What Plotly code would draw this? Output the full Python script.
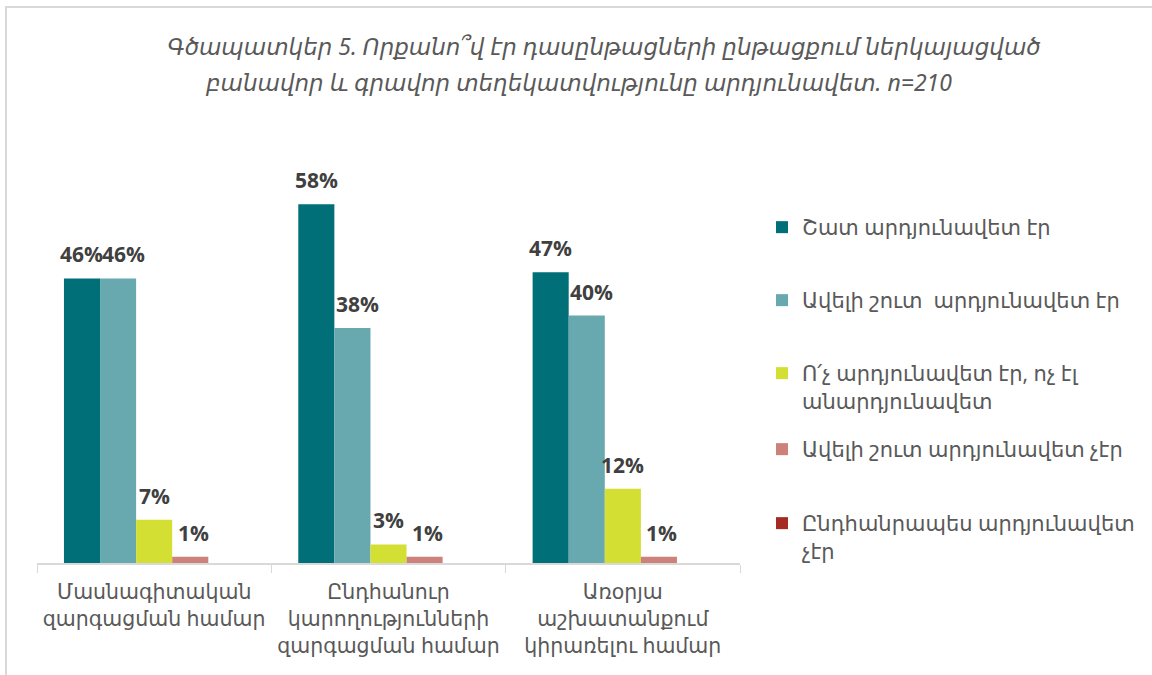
import plotly.graph_objects as go

categories = ["Մասնագիտական<br>զարգացման համար",
              "Ընդհանուր<br>կարողությունների<br>զարգացման համար",
              "Առօրյա<br>աշխատանքում<br>կիրառելու համար"]
series_names = ["Շատ արդյունավետ էր",
                "Ավելի շուտ  արդյունավետ էր",
                "Ո՛չ արդյունավետ էր, ոչ էլ<br>անարդյունավետ",
                "Ավելի շուտ արդյունավետ չէր",
                "Ընդհանրապես արդյունավետ<br>չէր"]
values = [
    [46, 58, 47],
    [46, 38, 40],
    [7, 3, 12],
    [1, 1, 1],
    [0, 0, 0],
]
colors = ["#006F77", "#67A9AF", "#D4DF33", "#CC817B", "#A52A22"]
title_line1 = "Գծապատկեր 5. Որքանո՞վ էր դասընթացների ընթացքում ներկայացված"
title_line2 = "բանավոր և գրավոր տեղեկատվությունը արդյունավետ. n=210"

W, H = 1152, 675
ml, mr, mt, mb = 37, 412, 130, 112
pw, ph = W - ml - mr, H - mt - mb
def px(x): return (x - ml) / pw
def py(y): return (H - mb - y) / ph

FONT = "Segoe UI, Noto Sans, DejaVu Sans, sans-serif"
legend_tops = [207, 280, 353, 429, 503]
label_xshift = [0, 5, 0, 3]

BARGAP = 0.23
n_series = len(series_names)
bar_w = (1 - BARGAP) / n_series

fig = go.Figure()
annotations = []
for i, (name, vals, col) in enumerate(zip(series_names, values, colors)):
    fig.add_trace(go.Bar(
        x=categories, y=vals, name=name,
        marker=dict(color=col, line=dict(width=0)),
        legend="legend" if i == 0 else f"legend{i+1}",
        hoverinfo="skip",
    ))
    if i < 4:
        for j, v in enumerate(vals):
            annotations.append(dict(
                x=j - (1 - BARGAP) / 2 + bar_w * (i + 0.5), y=v,
                xref="x", yref="y", text=f"<b>{v}%</b>", showarrow=False,
                xanchor="center", yanchor="middle", yshift=24, xshift=label_xshift[i],
                font=dict(family="Open Sans, sans-serif", size=21, color="#404040")))

annotations.append(dict(text=title_line2, xref="paper", yref="paper",
                        x=px(578), y=py(82), xanchor="center", yanchor="middle", showarrow=False,
                        font=dict(family=FONT, size=23, color="#595959", style="italic")))

legend_common = dict(
    font=dict(family=FONT, size=21, color="#595959"),
    bgcolor="rgba(0,0,0,0)", xanchor="left", yanchor="top",
    valign="top", itemclick=False, itemdoubleclick=False,
    tracegroupgap=0,
)
layout_legends = {}
for i, top in enumerate(legend_tops):
    key = "legend" if i == 0 else f"legend{i+1}"
    layout_legends[key] = dict(legend_common, x=px(762), y=py(top))

fig.update_layout(
    width=W, height=H,
    margin=dict(l=ml, r=mr, t=mt, b=mb),
    paper_bgcolor="white", plot_bgcolor="white",
    barmode="group", bargap=BARGAP, bargroupgap=0,
    showlegend=True,
    title=dict(text=title_line1, x=604 / W, xanchor="center",
               y=1 - 47 / H, yanchor="middle",
               font=dict(family=FONT, size=23, color="#595959", style="italic")),
    xaxis=dict(showline=True, linecolor="#D9D9D9", linewidth=1.5,
               ticks="outside", tickson="boundaries", ticklen=8, tickcolor="#D9D9D9",
               tickfont=dict(family=FONT, size=20.5, color="#595959"),
               ticklabelstandoff=10,
               showgrid=False, zeroline=False, fixedrange=True),
    yaxis=dict(range=[0, 70], visible=False, showgrid=False, zeroline=False, fixedrange=True),
    shapes=[dict(type="rect", xref="paper", yref="paper",
                 x0=px(6), x1=px(1170), y0=py(700), y1=py(7),
                 line=dict(color="#D9D9D9", width=2), fillcolor="rgba(0,0,0,0)", layer="below")],
    annotations=annotations,
    hovermode=False,
    **layout_legends,
)

fig.write_html("out.html", config={"displayModeBar": False},
               post_script="document.body.style.margin='0';")
